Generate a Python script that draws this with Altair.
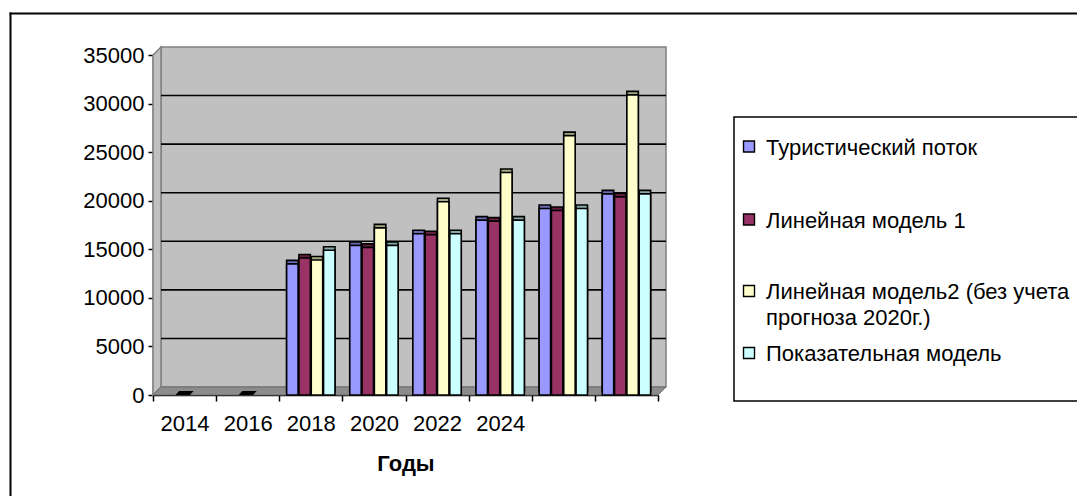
import json
import altair as alt
import pandas as pd

# ---------------- data ----------------
category_labels = ["2014", "2016", "2018", "2020", "2022", "2024", "", ""]
series_names = [
    "Туристический поток",
    "Линейная модель 1",
    "Линейная модель2 (без учета прогноза 2020г.)",
    "Показательная модель",
]
tourist_flow = [0, 0, 13500, 15400, 16600, 18000, 19200, 20700]
linear_model_1 = [0, 0, 14100, 15200, 16500, 17900, 19000, 20400]
linear_model_2 = [0, 0, 13900, 17200, 19900, 22900, 26700, 30900]
exponential_model = [0, 0, 14900, 15400, 16600, 18000, 19200, 20700]
y_ticks = [0, 5000, 10000, 15000, 20000, 25000, 30000, 35000]
grid_values = [5000, 10000, 15000, 20000, 25000, 30000]

front_colors = ["#9999FF", "#993366", "#FFFFCC", "#CCFFFF"]
side_colors = ["#6b6bb3", "#66203f", "#a8a882", "#86aaaa"]

all_series = [tourist_flow, linear_model_1, linear_model_2, exponential_model]
rows = []
for s_name, vals in zip(series_names, all_series):
    for i, v in enumerate(vals):
        rows.append({"idx": i, "series": s_name, "value": v})
df = pd.DataFrame(rows)

idx_domain = list(range(len(category_labels)))

# ---------------- geometry (layout) ----------------
W, H, D = 505, 340, 8
YMAX = 35000
NCAT = len(category_labels)
dx = D / W * NCAT
dy = D / H * YMAX
FONT = "Liberation Sans"

y_axis = alt.Axis(values=y_ticks, format="d", grid=False, labelFontSize=22, labelFont=FONT,
                  labelColor="black", domainColor="black", domainWidth=1.5, tickColor="black",
                  tickWidth=1.5, tickSize=5, labelPadding=4, title=None)


def y_enc(field):
    return alt.Y(field, type="quantitative",
                 scale=alt.Scale(domain=[0, YMAX], nice=False, zero=True), axis=y_axis)


def xq(field):
    return alt.X(field, type="quantitative",
                 scale=alt.Scale(domain=[0, NCAT], nice=False, zero=False), axis=None)


# back wall
wall = alt.Chart(alt.Data(values=[{"a": 0, "b": NCAT, "c": 0, "d": YMAX}])).mark_rect(
    fill="#c0c0c0", stroke="#808080", strokeWidth=1.5,
    xOffset=D, x2Offset=D, yOffset=-D, y2Offset=-D
).encode(x=xq("a:Q"), x2="b:Q", y=y_enc("c:Q"), y2="d:Q")

# left wall
lw = [{"wy": 0, "wx": 0, "wx2": 0}, {"wy": dy, "wx": 0, "wx2": dx},
      {"wy": YMAX, "wx": 0, "wx2": dx}, {"wy": YMAX + dy, "wx": dx, "wx2": dx}]
left_wall = alt.Chart(alt.Data(values=lw)).mark_area(
    orient="horizontal", fill="#c0c0c0", stroke="#808080", strokeWidth=1.5
).encode(y=y_enc("wy:Q"), x=xq("wx:Q"), x2="wx2:Q")

# floor
fl = [{"fx": 0, "fy": 0, "fy2": 0}, {"fx": dx, "fy": dy, "fy2": 0},
      {"fx": NCAT, "fy": dy, "fy2": 0},
      {"fx": NCAT + dx, "fy": dy, "fy2": dy}]
floor = alt.Chart(alt.Data(values=fl)).mark_area(
    fill="#8c8c8c", stroke="#6e6e6e", strokeWidth=1
).encode(x=xq("fx:Q"), y=y_enc("fy:Q"), y2="fy2:Q")

# gridlines on back wall
grid = alt.Chart(pd.DataFrame({"g": grid_values, "a": 0, "b": NCAT})).mark_rule(
    color="black", strokeWidth=1.6, xOffset=D, x2Offset=D, yOffset=-D
).encode(x=xq("a:Q"), x2="b:Q", y=y_enc("g:Q"))

# bars
label_expr = json.dumps(category_labels) + "[datum.value]"


def x_band(axis=None):
    return alt.X("idx:O", scale=alt.Scale(domain=idx_domain, paddingInner=0, paddingOuter=0), axis=axis)


xoff = alt.XOffset("series:N", scale=alt.Scale(domain=series_names, paddingInner=0.07, paddingOuter=0.6))

x_axis = alt.Axis(labelExpr=label_expr, tickBand="extent", labelAngle=0, title="Годы",
                  titleFontWeight="bold", titleFontSize=22, labelFontSize=22, labelFont=FONT,
                  titleFont=FONT, labelColor="black", titleColor="black", domainColor="black",
                  domainWidth=1.5, tickColor="black", tickWidth=1.5, tickSize=6, labelPadding=12,
                  titlePadding=19)

shadow = alt.Chart(df).transform_filter("datum.value > 0").mark_bar(
    stroke="black", strokeWidth=1.6, xOffset=6.5, x2Offset=6.5, yOffset=-3.5, y2Offset=-3.5
).encode(
    x=x_band(), xOffset=xoff, y=y_enc("value:Q"),
    color=alt.Color("series:N", scale=alt.Scale(domain=series_names, range=side_colors), legend=None),
)

front = alt.Chart(df).transform_filter("datum.value > 0").mark_bar(
    stroke="black", strokeWidth=1.6, xOffset=3, x2Offset=3
).encode(
    x=x_band(x_axis), xOffset=xoff, y=y_enc("value:Q"),
    fill=alt.Fill("series:N", scale=alt.Scale(domain=series_names, range=front_colors), legend=None),
)

blob = alt.Chart(df).transform_filter(
    "datum.value == 0 && datum.series == " + json.dumps(series_names[0])
).mark_point(
    shape="M -1 0.22 L -0.6 -0.22 L 1 -0.22 L 0.6 0.22 Z", filled=True, color="black",
    size=324, opacity=1, yOffset=-2
).encode(x=x_band(), y=y_enc("value:Q"))

# outer frame (left and top edges of the chart area border)
frame_left = alt.Chart(alt.Data(values=[{}])).mark_rule(color="black", strokeWidth=2).encode(
    x=alt.value(-142.5), y=alt.value(-42.5), y2=alt.value(460))
frame_top = alt.Chart(alt.Data(values=[{}])).mark_rule(color="black", strokeWidth=2).encode(
    x=alt.value(-143.5), x2=alt.value(940), y=alt.value(-41.5))

# legend
legend_box = alt.Chart(alt.Data(values=[{}])).mark_rect(
    fill="white", stroke="black", strokeWidth=1.5
).encode(x=alt.value(581), x2=alt.value(950), y=alt.value(62), y2=alt.value(346))

row_centers = [91.5, 164.5, 236, 298]
legend_layers = [legend_box]
for i, name in enumerate(series_names):
    cy = row_centers[i]
    legend_layers.append(
        alt.Chart(alt.Data(values=[{}])).mark_rect(fill=front_colors[i], stroke="black", strokeWidth=1.4)
        .encode(x=alt.value(590.5), x2=alt.value(601.5), y=alt.value(cy - 5.5), y2=alt.value(cy + 5.5))
    )
    lines = [name] if "(" not in name else [name.split(" прогноза")[0], "прогноза" + name.split(" прогноза")[1]]
    legend_layers.append(
        alt.Chart(alt.Data(values=[{}])).mark_text(
            align="left", baseline="alphabetic", font=FONT, fontSize=22, color="black", lineHeight=26
        ).encode(x=alt.value(613), y=alt.value(cy + 8), text=alt.value(lines))
    )

chart = alt.layer(
    frame_left, frame_top, wall, left_wall, floor, grid, shadow, front, blob, *legend_layers
).resolve_scale(x="independent", color="independent", fill="independent").properties(
    width=W, height=H,
    padding={"left": 145, "top": 47, "right": 1069 - 145 - W, "bottom": 488 - 47 - H},
    autosize=alt.AutoSizeParams(type="none"),
    background="white",
).configure_view(stroke=None)

chart.save("out.html", embed_options={"renderer": "svg", "actions": False})
